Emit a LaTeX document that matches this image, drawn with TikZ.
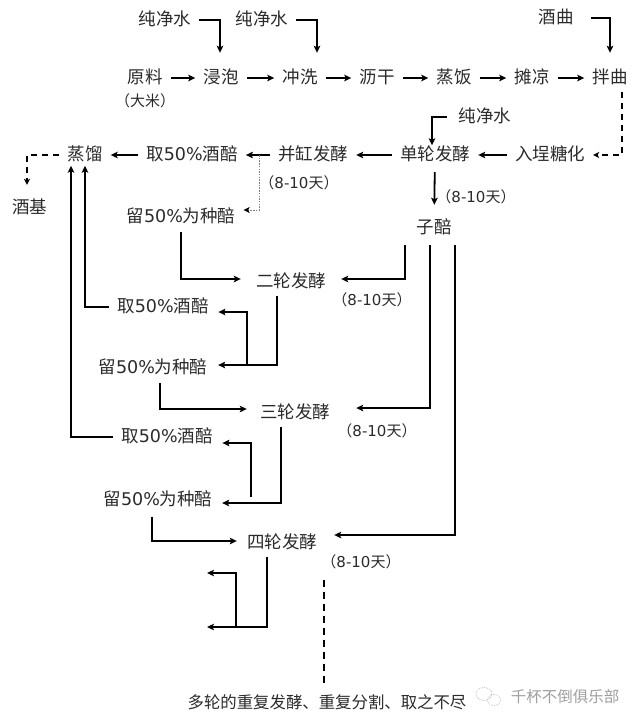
\documentclass[tikz,border=0pt]{standalone}
\usepackage{fontspec}
\setmainfont{Noto Sans CJK SC}
\newfontfamily\lat{DejaVu Sans}
\usetikzlibrary{arrows.meta,calc}
\definecolor{txt}{HTML}{2B2B2B}
\newcommand{\pct}{{\lat 50\%}}
\newcommand{\days}{（{\lat 8-10}天）}
\begin{document}
\begin{tikzpicture}[x=1pt,y=-1pt,
  lbl/.style={inner xsep=8pt, inner ysep=6pt, text height=13pt, text depth=2pt, font=\fontsize{17.5}{20}\selectfont, text=txt},
  sm/.style={inner xsep=2pt, inner ysep=2pt, font=\fontsize{15}{18}\selectfont, text=txt},
  conn/.style={line width=1.8pt, -{Stealth[length=7pt,width=6.5pt,inset=1.5pt]}},
  dsh/.style={line width=1.8pt, dash pattern=on 6pt off 5pt, -{Stealth[length=6pt,width=6pt,inset=1.5pt]}},
  dotl/.style={line width=0.6pt, draw=gray, dash pattern=on 1.5pt off 1.2pt, -{Stealth[length=6pt,width=6pt,inset=1.5pt,black]}}
]
\fill[white] (0,0) rectangle (640,724);
\useasboundingbox (0,0) rectangle (640,724);

% top inputs
\node[lbl] (shui1) at (165,20) {纯净水};
\node[lbl] (shui2) at (262,20) {纯净水};
\node[lbl] (jiuqu) at (556,18) {酒曲};
% row 2
\node[lbl] (yuanliao) at (145,78) {原料};
\node[sm] (dami) at (145,101) {（大米）};
\node[lbl] (jinpao) at (221,78) {浸泡};
\node[lbl] (chongxi) at (300,78) {冲洗};
\node[lbl] (ligan) at (377,78) {沥干};
\node[lbl] (zhengfan) at (454,78) {蒸饭};
\node[lbl] (tanliang) at (532,78) {摊凉};
\node[lbl] (banqu) at (610,78) {拌曲};
% row 3
\node[lbl] (shui3) at (485,117) {纯净水};
\node[lbl] (rucheng) at (550,155) {入埕糖化};
\node[lbl] (danlun) at (435,155) {单轮发酵};
\node[lbl] (binggang) at (313,155) {并缸发酵};
\node[lbl] (qu1) at (192,155) {取\pct 酒醅};
\node[lbl] (zhengliu) at (85,155) {蒸馏};
\node[lbl] (jiuji) at (30,208) {酒基};
\node[sm] (d1) at (299,183) {\days};
\node[lbl] (liu1) at (181,217) {留\pct 为种醅};
\node[sm] (d2) at (476,197) {\days};
\node[lbl] (zipei) at (434,228) {子醅};
% round 2
\node[lbl] (er) at (291,282) {二轮发酵};
\node[sm] (d3) at (372,300) {\days};
\node[lbl] (qu2) at (163,307) {取\pct 酒醅};
\node[lbl] (liu2) at (153,368) {留\pct 为种醅};
% round 3
\node[lbl] (san) at (295,413) {三轮发酵};
\node[sm] (d4) at (377,431) {\days};
\node[lbl] (qu3) at (167,437) {取\pct 酒醅};
\node[lbl] (liu3) at (158,500) {留\pct 为种醅};
% round 4
\node[lbl] (si) at (282,543) {四轮发酵};
\node[sm] (d5) at (361,562) {\days};
\node[lbl, font=\fontsize{16.4}{19}\selectfont] (bottom) at (327,703) {多轮的重复发酵、重复分割、取之不尽};
\node[inner sep=1pt, font=\fontsize{15.5}{18}\selectfont, text=gray!75] (wm) at (565,697) {千杯不倒俱乐部};
\draw[gray!55, line width=0.7pt, densely dotted] (484,694) ellipse (8 and 6.5);
\draw[gray!55, line width=0.7pt, densely dotted] (494,700) ellipse (6.5 and 5.5);

% top connectors
\draw[conn, shorten >=11.5pt] (shui1.east) -| ([xshift=-1pt]jinpao.north);
\draw[conn, shorten >=11.5pt] (shui2.east) -| ([xshift=17pt]chongxi.north);
\draw[conn, shorten <=9pt, shorten >=11.5pt] (jiuqu.east) -| (banqu.north);
\draw[conn] (yuanliao) -- (jinpao);
\draw[conn] (jinpao) -- (chongxi);
\draw[conn] (chongxi) -- (ligan);
\draw[conn] (ligan) -- (zhengfan);
\draw[conn] (zhengfan) -- (tanliang);
\draw[conn] (tanliang) -- (banqu);
\draw[dsh] ([xshift=12pt]banqu.south) |- (rucheng.east);
\draw[conn] (rucheng) -- (danlun);
\draw[conn, shorten <=4pt, shorten >=-4pt] (shui3.west) -| ([xshift=-3pt]danlun.north);
\draw[conn] (danlun) -- (binggang);
\draw[conn] (binggang) -- (qu1);
\draw[conn] (qu1) -- (zhengliu);
\draw[dsh, shorten >=9.5pt] (zhengliu.west) -| ([xshift=-3pt]jiuji.north);
\coordinate (dd) at ($(binggang.west)!0.45!(qu1.east)$);
\draw[dotl] (dd) |- ([yshift=7pt]liu1.east);
\draw[conn, shorten <=3.5pt, shorten >=9.5pt] (danlun) -- (zipei);

% zipei branches
\draw[conn, shorten <=3.5pt, shorten >=7pt] ([xshift=-29pt]zipei.south) |- ([yshift=3pt]er.east);
\draw[conn, shorten <=3.5pt, shorten >=18pt] ([xshift=-4pt]zipei.south) |- ([yshift=5pt]san.east);
\draw[conn, shorten <=3.5pt, shorten >=9pt] ([xshift=21pt]zipei.south) |- ([yshift=8pt]si.east);

% round 2
\draw[conn, shorten <=1.5pt, shorten >=7pt] (liu1.south) |- ([yshift=3pt]er.west);
\draw[conn, shorten >=2.5pt] ([xshift=-14pt]er.south) |- ([yshift=3pt]liu2.east);
\coordinate (b2) at (247,365);
\draw[conn, shorten >=1.5pt] (b2) |- ([yshift=-5pt]qu2.east);
\draw[conn, shorten >=-3pt] (qu2.west) -| (zhengliu.south);
\draw[conn, shorten >=-3pt] (qu3.west) -| ([xshift=-14pt]zhengliu.south);

% round 3
\draw[conn, shorten <=1.5pt, shorten >=5pt] ([xshift=7pt]liu2.south) |- ([yshift=4pt]san.west);
\draw[conn, shorten >=1.5pt] ([xshift=-14pt]san.south) |- ([yshift=-3pt]liu3.east);
\coordinate (b3) at (251,497);
\draw[conn, shorten >=1.5pt] (b3) |- ([yshift=-6pt]qu3.east);

% round 4
\draw[conn, shorten <=3pt, shorten >=2pt] ([xshift=-6pt]liu3.south) |- ([yshift=2pt]si.west);
\coordinate (e1) at (207,627);
\coordinate (e2) at (207,573);
\draw[conn] ([xshift=-15pt]si.south) |- (e1);
\coordinate (b4) at (236,627);
\draw[conn] (b4) |- (e2);
\coordinate (dtop) at (324,580);
\draw[line width=1.8pt, dash pattern=on 7pt off 5pt, shorten >=6pt] (dtop) -- (dtop |- bottom.north);
\end{tikzpicture}
\end{document}
